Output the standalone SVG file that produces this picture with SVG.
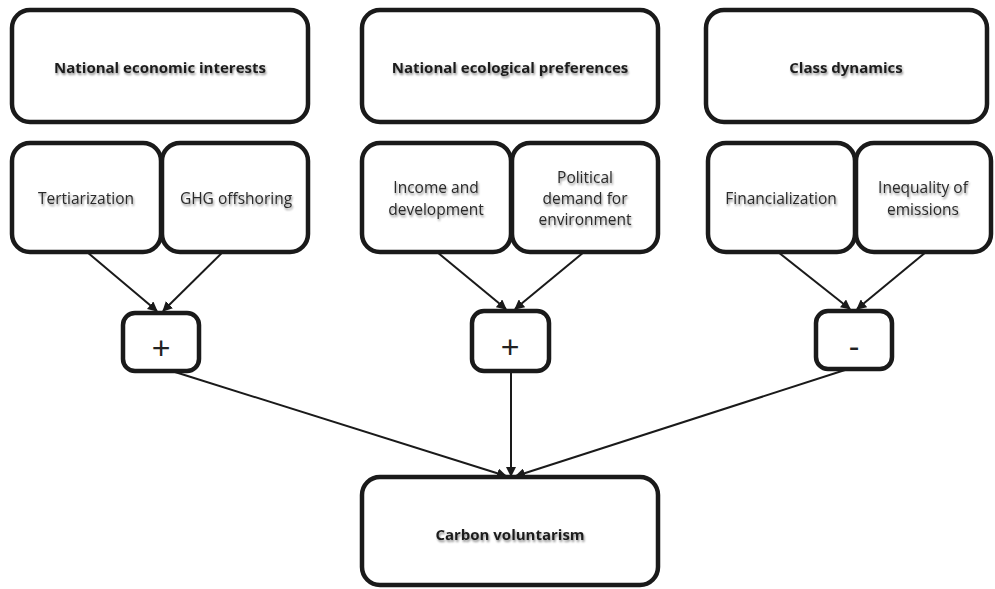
<svg xmlns="http://www.w3.org/2000/svg" width="995" height="589" viewBox="0 0 995 589">
<defs>
<style>
.box{fill:#fff;stroke:#1a1a1a;stroke-width:4.5}
.t{font-family:"Open Sans","Liberation Sans",sans-serif;font-size:15.5px;fill:#2a2a2a;text-anchor:middle;filter:url(#sh)}
.tb{font-weight:bold;font-size:15px;fill:#1e1e1e}
.op{font-family:"Liberation Sans",sans-serif;font-size:32px;fill:#222;text-anchor:middle}
.c{stroke:#1a1a1a;stroke-width:2;fill:none;marker-end:url(#ah)}
</style>
<filter id="sh" x="-10%" y="-30%" width="120%" height="160%">
<feGaussianBlur in="SourceAlpha" stdDeviation="1.2"/>
<feOffset dx="1" dy="2" result="b"/>
<feComponentTransfer><feFuncA type="linear" slope="0.45"/></feComponentTransfer>
<feMerge><feMergeNode/><feMergeNode in="SourceGraphic"/></feMerge>
</filter>
<marker id="ah" markerWidth="10" markerHeight="10" refX="9" refY="5" orient="auto" markerUnits="userSpaceOnUse">
<path d="M0,0 L10,5 L0,10 Z" fill="#1a1a1a"/>
</marker>
</defs>
<rect width="995" height="589" fill="#fff"/>
<g id="connectors">
<line class="c" x1="87" y1="252" x2="157" y2="311"/>
<line class="c" x1="236" y1="239" x2="163" y2="311"/>
<line class="c" x1="437" y1="252" x2="506" y2="309"/>
<line class="c" x1="584" y1="252" x2="515" y2="309"/>
<line class="c" x1="778" y1="252" x2="850" y2="309"/>
<line class="c" x1="926" y1="252" x2="857" y2="309"/>
<line class="c" x1="175" y1="372" x2="506" y2="476"/>
<line class="c" x1="511" y1="372" x2="511" y2="476"/>
<line class="c" x1="845" y1="370" x2="516" y2="476"/>
</g>
<g id="n1"><rect class="box" x="12" y="10" width="296" height="112" rx="18"/><text class="t tb" x="160" y="73">National economic interests</text></g>
<g id="n2"><rect class="box" x="362" y="10" width="296" height="112" rx="18"/><text class="t tb" x="510" y="73">National ecological preferences</text></g>
<g id="n3"><rect class="box" x="706" y="10" width="281" height="112" rx="18"/><text class="t tb" x="846" y="73">Class dynamics</text></g>
<g id="n4"><rect class="box" x="12" y="143" width="149" height="109" rx="18"/><text class="t" x="86" y="204">Tertiarization</text></g>
<g id="n5"><rect class="box" x="162" y="143" width="146" height="109" rx="18"/><text class="t" x="236" y="204">GHG offshoring</text></g>
<g id="n6"><rect class="box" x="362" y="143" width="149" height="109" rx="18"/><text class="t" x="436" y="193">Income and</text><text class="t" x="436" y="215">development</text></g>
<g id="n7"><rect class="box" x="512" y="143" width="146" height="109" rx="18"/><text class="t" x="585" y="183">Political</text><text class="t" x="585" y="204">demand for</text><text class="t" x="585" y="225">environment</text></g>
<g id="n8"><rect class="box" x="708" y="143" width="147" height="109" rx="18"/><text class="t" x="781" y="204">Financialization</text></g>
<g id="n9"><rect class="box" x="856" y="143" width="135" height="109" rx="18"/><text class="t" x="923" y="193">Inequality of</text><text class="t" x="923" y="215">emissions</text></g>
<g id="op1"><rect class="box" x="123" y="313" width="76" height="58" rx="12"/><text class="op" x="161" y="359">+</text></g>
<g id="op2"><rect class="box" x="472" y="311" width="77" height="60" rx="12"/><text class="op" x="510" y="358">+</text></g>
<g id="op3"><rect class="box" x="816" y="311" width="76" height="58" rx="12"/><text class="op" x="854" y="357">-</text></g>
<g id="n10"><rect class="box" x="362" y="477" width="296" height="108" rx="18"/><text class="t tb" x="510" y="540">Carbon voluntarism</text></g>
</svg>
